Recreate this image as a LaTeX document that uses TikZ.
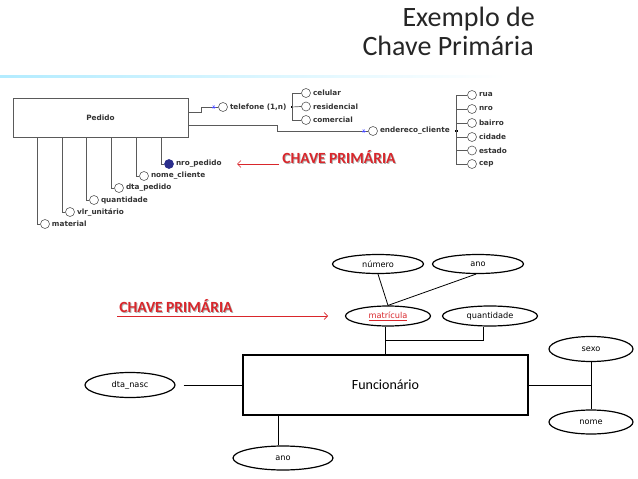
\documentclass[tikz,border=0pt]{standalone}
\usepackage{fontspec}
\setmainfont{Carlito}
\newfontfamily\djv{DejaVu Sans}
\usetikzlibrary{shapes.geometric,arrows.meta}
\definecolor{chred}{HTML}{D9262B}
\definecolor{linegray}{HTML}{5A5A5A}
\definecolor{navy}{HTML}{2B2E8C}
\begin{document}
\begin{tikzpicture}[x=1pt,y=-1pt,
  attrc/.style={circle,draw=linegray,line width=0.6pt,minimum size=9pt,inner sep=0pt,fill=white},
  attrt/.style={anchor=west,inner sep=0pt,font=\djv\bfseries\fontsize{7.3}{8.5}\selectfont,text=black!80},
  conn/.style={draw=linegray,line width=0.9pt},
  ell/.style={ellipse,draw,line width=1.2pt,inner sep=0pt,font=\djv\fontsize{8.2}{10}\selectfont},
  redtxt/.style={inner sep=0pt,font=\bfseries\fontsize{15.5}{17}\selectfont,text=chred},
  shadowtxt/.style={inner sep=0pt,font=\bfseries\fontsize{15.5}{17}\selectfont,text=black!30},
  redarrow/.style={draw=chred,line width=0.6pt,-{Straight Barb[length=3.5pt,width=7pt]}},
  titletxt/.style={inner sep=0pt,font=\fontsize{28}{30}\selectfont,text=black!85,anchor=base east},
  dotsq/.style={rectangle,fill=black,minimum size=2.2pt,inner sep=0pt}
]
\useasboundingbox (0,0) rectangle (638,479);
\fill[white] (0,0) rectangle (638,479);

% title
\node[titletxt] (t1) at (535,27) {Exemplo de};
\node[titletxt] (t2) at (534,55) {Chave Primária};

% light blue rule
\shade[left color=blue!25!cyan!30,right color=white] (0,75.5) rectangle (505,77);

% ---------------- upper diagram ----------------
\node[draw=linegray,line width=1pt,fill=white,minimum width=175pt,minimum height=39pt,inner sep=0pt,
      font=\djv\bfseries\fontsize{7.3}{8.5}\selectfont,text=black!80] (ped) at (100.5,117.5) {Pedido};

% bottom attributes
\node[attrc] (cmat) at (45,224) {};   \node[attrt] (lmat) at ([xshift=2pt]cmat.east) {material};
\node[attrc] (cvlr) at (70,212) {};   \node[attrt] (lvlr) at ([xshift=2pt]cvlr.east) {vlr\_unitário};
\node[attrc] (cqtd) at (94,200) {};   \node[attrt] (lqtd) at ([xshift=2pt]cqtd.east) {quantidade};
\node[attrc] (cdta) at (119,188) {};  \node[attrt] (ldta) at ([xshift=2pt]cdta.east) {dta\_pedido};
\node[attrc] (cnom) at (144,176) {};  \node[attrt] (lnom) at ([xshift=2pt]cnom.east) {nome\_cliente};
\node[attrc,fill=navy,draw=navy] (cnro) at (169,164) {}; \node[attrt] (lnro) at ([xshift=2pt]cnro.east) {nro\_pedido};

\draw[conn] ([xshift=25pt]ped.south west) |- (cmat.west);
\draw[conn] ([xshift=50pt]ped.south west) |- (cvlr.west);
\draw[conn] ([xshift=74pt]ped.south west) |- (cqtd.west);
\draw[conn] ([xshift=99pt]ped.south west) |- (cdta.west);
\draw[conn] ([xshift=124pt]ped.south west) |- (cnom.west);
\draw[conn] ([xshift=149pt]ped.south west) |- (cnro.west);

% telefone
\node[attrc] (ctel) at (223,107) {}; \node[attrt] (ltel) at ([xshift=2pt]ctel.east) {telefone (1,n)};
\draw[conn] ([yshift=5.5pt]ped.east) -- ++(13,0) |- (ctel.west);
\foreach \a in {0,60,120} \draw[blue!70,line width=0.5pt] ([xshift=-4.5pt]ctel.west) ++(\a:1.8pt) -- ++(\a+180:3.6pt);
\node[dotsq] (tdot) at (292,107) {};
\node[attrc] (ccel) at (306,93) {};  \node[attrt] (lcel) at ([xshift=2pt]ccel.east) {celular};
\node[attrc] (cres) at (306,106.5) {}; \node[attrt] (lres) at ([xshift=2pt]cres.east) {residencial};
\node[attrc] (ccom) at (306,120) {}; \node[attrt] (lcom) at ([xshift=2pt]ccom.east) {comercial};
\draw[conn,line width=0.7pt] (ccel.west) -- ++(-9,0) |- (ccom.west);
\draw[conn,line width=0.7pt] (tdot) -- (cres.west);

% endereco
\node[attrc] (cend) at (373,131) {}; \node[attrt] (lend) at ([xshift=2pt]cend.east) {endereco\_cliente};
\draw[conn] ([yshift=-7.5pt]ped.east) -- ++(89,0) |- (cend.west);
\foreach \a in {0,60,120} \draw[blue!70,line width=0.5pt] ([xshift=-4.5pt]cend.west) ++(\a:1.8pt) -- ++(\a+180:3.6pt);
\node[dotsq] (edot) at (456.5,131) {};
\node[attrc] (crua) at (472,95) {};   \node[attrt] (lrua) at ([xshift=2pt]crua.east) {rua};
\node[attrc] (cnr2) at (472,109) {};  \node[attrt] (lnr2) at ([xshift=2pt]cnr2.east) {nro};
\node[attrc] (cbai) at (472,123) {};  \node[attrt] (lbai) at ([xshift=2pt]cbai.east) {bairro};
\node[attrc] (ccid) at (472,137) {};  \node[attrt] (lcid) at ([xshift=2pt]ccid.east) {cidade};
\node[attrc] (cest) at (472,150.5) {}; \node[attrt] (lest) at ([xshift=2pt]cest.east) {estado};
\node[attrc] (ccep) at (472,164) {};  \node[attrt] (lcep) at ([xshift=2pt]ccep.east) {cep};
\draw[conn,line width=0.7pt] (crua.west) -- ++(-11,0) |- (ccep.west);
\foreach \n in {cnr2,cbai,ccid,cest} \draw[conn,line width=0.7pt] (\n.west) -- ++(-11,0);

% chave primaria (upper)
\node[shadowtxt] (cp1s) at (340,158) {CHAVE PRIMÁRIA};
\node[redtxt] (cp1) at (339,157) {CHAVE PRIMÁRIA};
\coordinate (a1s) at (279,164);
\coordinate (a1e) at (237,164);
\draw[redarrow] (a1s) -- (a1e);

% ---------------- lower diagram ----------------
\node[ell,minimum width=91pt,minimum height=19pt] (numero) at (378,264) {número};
\node[ell,minimum width=91pt,minimum height=19pt] (anoT) at (478,264) {ano};
\node[ell,minimum width=85pt,minimum height=20pt,text=chred] (matricula) at (388,316) {\underline{matrícula}};
\node[ell,minimum width=95pt,minimum height=20pt] (quantidade) at (490,316) {quantidade};
\node[draw,line width=1.4pt,minimum width=285pt,minimum height=60pt,inner sep=0pt,
      font=\fontsize{14}{16}\selectfont] (func) at (385.5,385) {Funcionário};
\node[ell,minimum width=90pt,minimum height=25pt] (dtanasc) at (130,385) {dta\_nasc};
\node[ell,minimum width=100pt,minimum height=24pt] (anoB) at (283,458) {ano};
\node[ell,minimum width=84pt,minimum height=25pt] (sexo) at (591,349) {sexo};
\node[ell,minimum width=84pt,minimum height=24pt] (nome) at (591,422) {nome};

\draw[line width=0.8pt] (numero.south) -- (matricula.north);
\draw[line width=0.8pt] ([xshift=-2pt]anoT.south) -- (matricula.north);

\coordinate (j) at (385,340);
\coordinate (k) at (483,340);
\draw[line width=1pt] (matricula.south -| j) -- (j) -- (k) -- (quantidade.south -| k);
\draw[line width=1pt] (j) -- (func.north -| j);

\draw[line width=1pt,shorten <=8pt] (dtanasc.east) -- (func.west);
\draw[line width=1pt] ([xshift=-5pt]anoB.north) -- ([xshift=-5pt]anoB.north |- func.south);
\coordinate (s) at (591,385);
\draw[line width=1pt] (func.east) -- (s);
\draw[line width=1pt] (sexo.south) -- (nome.north);

% chave primaria (lower)
\node[shadowtxt] (cp2s) at (177,307) {CHAVE PRIMÁRIA};
\node[redtxt] (cp2) at (176,306) {CHAVE PRIMÁRIA};
\coordinate (a2s) at (117,316);
\coordinate (a2e) at (328,316);
\draw[redarrow] (a2s) -- (a2e);
\end{tikzpicture}
\end{document}
